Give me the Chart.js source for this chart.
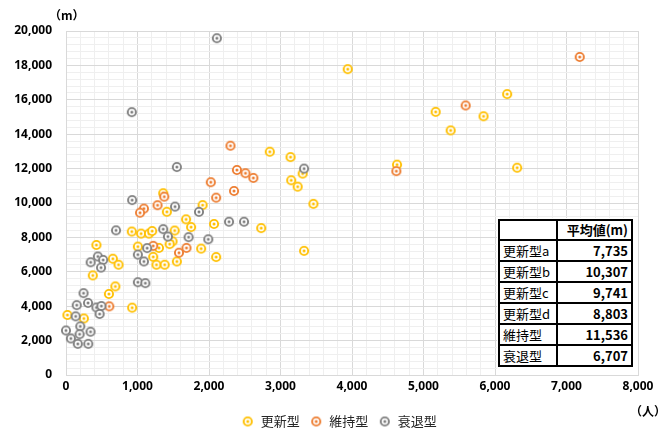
<!DOCTYPE html>
<html lang="ja">
<head>
<meta charset="utf-8">
<script src="https://cdn.jsdelivr.net/npm/chart.js@4.4.1/dist/chart.umd.min.js"></script>
<style>
  body { margin: 0; background: #fff; overflow: hidden; }
  #wrap { position: relative; width: 668px; height: 430px; }
  #chart { position: absolute; left: 0; top: 0; }
  .unit { position: absolute; font: bold 12px "Noto Sans CJK JP", sans-serif; color: #000; }
  #avgBox { position: absolute; left: 497px; top: 218px; width: 141px; height: 157px; background: #fff; }
  #avgBox table { border-collapse: collapse; margin: 1px 0 0 1px; font: 13px "Noto Sans CJK JP", sans-serif; color: #000; }
  #avgBox td { border: 2px solid #000; padding: 0 3px; height: 19px; line-height: 19px; white-space: nowrap; }
  #avgBox td.name { width: 50px; }
  #avgBox td.val { width: 67px; text-align: right; font-weight: bold; }
  #avgBox tr.head td { height: 18px; line-height: 18px; }
</style>
</head>
<body>
<div id="wrap">
  <canvas id="chart" width="668" height="430"></canvas>
  <div class="unit" style="left:49px; top:6px;">（m）</div>
  <div class="unit" style="left:630px; top:402px;">（人）</div>
  <div id="avgBox"><table id="avgTable"></table></div>
</div>
<script>
// series labels
const seriesNames = ["更新型", "維持型", "衰退型"];
const seriesColors = ["#FFC000", "#ED7D31", "#7F7F7F"];

// [population (人), distance (m)]
const renewalPoints = [
  [3940, 17780], [6170, 16330], [5170, 15300], [5840, 15040], [5380, 14220],
  [4630, 12230], [6310, 12050], [2850, 12980], [3140, 12670], [3310, 11710],
  [3150, 11320], [3240, 10950], [3460, 9950], [1910, 9880], [2070, 8780],
  [2730, 8540], [1890, 7350], [3330, 7220], [2100, 6860], [1360, 10570],
  [1410, 9490], [1680, 9050], [1750, 8600], [920, 8340], [1050, 8220],
  [1160, 8220], [1205, 8370], [1520, 8400], [1490, 7770], [1450, 7610],
  [1550, 6600], [425, 7560], [1005, 7465], [1300, 7390], [1220, 6870],
  [1265, 6410], [1380, 6410], [655, 6760], [735, 6410], [375, 5790],
  [690, 5150], [600, 4710], [925, 3915], [20, 3490], [250, 3285]
];
const maintainPoints = [
  [7185, 18490], [5590, 15670], [4620, 11850], [2300, 13330], [2390, 11920],
  [2510, 11730], [2620, 11460], [2025, 11210], [2350, 10700], [2100, 10310],
  [1375, 10370], [1280, 9870], [1090, 9675], [1035, 9435], [1685, 7390],
  [1580, 7110], [1220, 7510], [605, 3990]
];
const declinePoints = [
  [2110, 19580], [920, 15280], [1550, 12090], [3330, 12000], [925, 10170],
  [1525, 9790], [1860, 9485], [2280, 8910], [2490, 8910], [700, 8410],
  [1360, 8480], [1425, 8050], [1715, 8015], [1990, 7890], [1135, 7380],
  [1005, 7000], [1090, 6600], [445, 6890], [345, 6555], [520, 6690],
  [490, 6245], [1005, 5395], [1110, 5340], [245, 4760], [150, 4060],
  [308, 4190], [425, 3925], [495, 4010], [470, 3550], [135, 3410],
  [200, 2830], [0, 2590], [343, 2515], [68, 2125], [190, 2370],
  [165, 1810], [312, 1810]
];

// average table
const tableHeader = "平均値(m)";
const tableLabels = ["更新型a", "更新型b", "更新型c", "更新型d", "維持型", "衰退型"];
const tableAverages = [7735, 10307, 9741, 8803, 11536, 6707];

const fmt = (v) => v.toLocaleString("en-US");

// build the table
const table = document.getElementById("avgTable");
let html = '<tr class="head"><td class="name"></td><td class="val">' + tableHeader + "</td></tr>";
tableLabels.forEach((label, i) => {
  html += '<tr><td class="name">' + label + '</td><td class="val">' + fmt(tableAverages[i]) + "</td></tr>";
});
table.innerHTML = html;

// ring marker with a dot in the middle
function ringMarker(color) {
  const c = document.createElement("canvas");
  c.width = 12;
  c.height = 12;
  const g = c.getContext("2d");
  g.beginPath();
  g.arc(6, 6, 4.1, 0, Math.PI * 2);
  g.fillStyle = "#fff";
  g.fill();
  g.lineWidth = 1.9;
  g.strokeStyle = color;
  g.stroke();
  g.beginPath();
  g.arc(6, 6, 1.5, 0, Math.PI * 2);
  g.fillStyle = color;
  g.fill();
  return c;
}

const toXY = (pts) => pts.map((p) => ({ x: p[0], y: p[1] }));
const allPoints = [renewalPoints, maintainPoints, declinePoints];

const datasets = allPoints.map((pts, i) => ({
  label: seriesNames[i],
  data: toXY(pts),
  pointStyle: ringMarker(seriesColors[i]),
  pointRadius: 5,
  borderColor: seriesColors[i],
  backgroundColor: seriesColors[i],
  order: 3 - i,
  clip: false
}));

// nudge the legend a little to the right of the canvas centre
const legendShift = {
  id: "legendShift",
  afterLayout(chart) {
    if (chart.legend) {
      chart.legend.left += 20;
      chart.legend.right += 20;
    }
  }
};

const tickFont = { family: "'Noto Sans', sans-serif", size: 12, weight: "bold" };
const gridColor = (step) => (ctx) =>
  ctx.tick && ctx.tick.value % step === 0 ? "#d9d9d9" : "#efefef";

new Chart(document.getElementById("chart"), {
  type: "scatter",
  data: { datasets: datasets },
  plugins: [legendShift],
  options: {
    responsive: false,
    animation: false,
    layout: { padding: { top: 31, right: 30, left: 0, bottom: -8 } },
    scales: {
      x: {
        type: "linear",
        min: 0,
        max: 8000,
        afterFit: (scale) => { scale.height = 30; },
        border: { color: "#d9d9d9" },
        grid: { color: gridColor(1000), drawTicks: false },
        ticks: {
          stepSize: 200,
          autoSkip: false,
          maxRotation: 0,
          padding: 4,
          color: "#000",
          font: tickFont,
          callback: (v) => (v % 1000 === 0 ? fmt(v) : "")
        }
      },
      y: {
        min: 0,
        max: 20000,
        afterFit: (scale) => { scale.width = 66; },
        border: { color: "#d9d9d9" },
        grid: { color: gridColor(2000), drawTicks: false },
        ticks: {
          stepSize: 400,
          autoSkip: false,
          padding: 14,
          color: "#000",
          font: tickFont,
          callback: (v) => (v % 2000 === 0 ? fmt(v) : "")
        }
      }
    },
    plugins: {
      legend: {
        position: "bottom",
        labels: {
          usePointStyle: true,
          padding: 10,
          color: "#262626",
          font: { family: "'Noto Sans CJK JP', sans-serif", size: 13 },
          sort: (a, b) => a.datasetIndex - b.datasetIndex
        }
      },
      tooltip: { enabled: false }
    }
  }
});
</script>
</body>
</html>
